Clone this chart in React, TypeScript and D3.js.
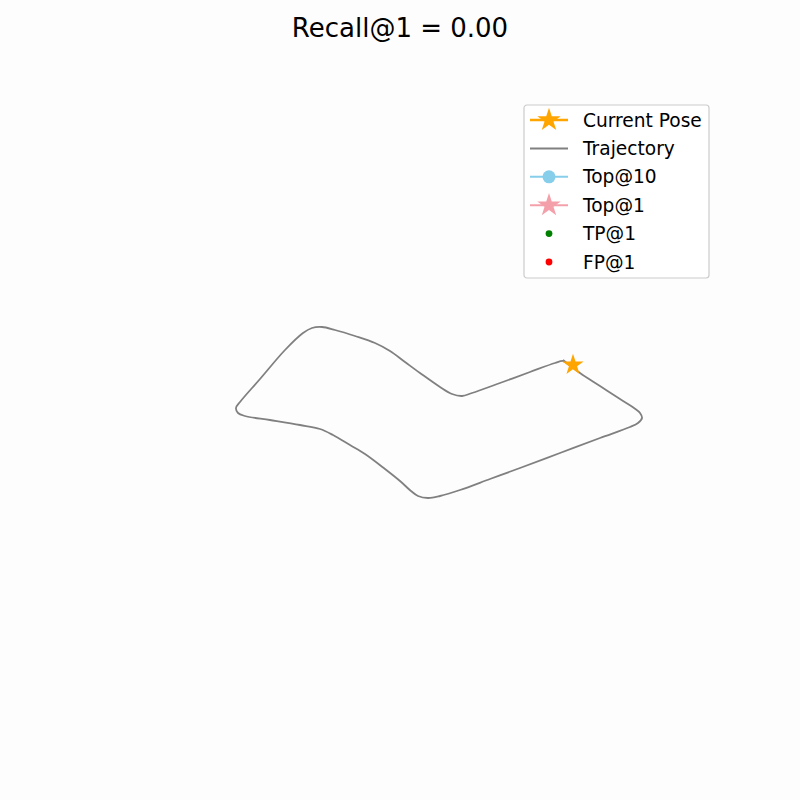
import React, { useEffect, useRef } from 'react';
import * as d3 from 'd3';

// trajectory in map coordinates (metres)
const trajX = [40.75, 45, 50, 55, 58.5, 60, 60.5, 59.5, 57.5, 50, 40, 30, 22.5, 15, 10, 7, 4.5, 2.75, 0, -3.75, -8.75, -12.5, -16.75, -20, -25, -32.5, -38.75, -40.5, -41, -40, -35, -28.75, -24.25, -22, -19.5, -16.25, -11.25, -6.25, -2.5, 1.25, 5, 10, 13, 15.5, 18, 25, 32.5, 38.75, 40.75, 42];
const trajY = [10, 6.75, 3.5, 0.25, -2, -3.25, -4.5, -5.75, -6.75, -9.5, -13.25, -17, -19.75, -22.5, -24, -24.5, -24, -22.75, -20.25, -17.25, -13.5, -11.25, -8.75, -7.25, -6.25, -5, -4, -3.25, -2, -0.5, 5.25, 12.5, 16.75, 18, 18.25, 17.5, 16, 14.25, 12.25, 9.5, 6.75, 3.25, 1.5, 1, 1.75, 4.25, 7, 9.25, 9.75, 9];

const currentPose = { x: 43.25, y: 8.75 };

const recall = 0.0;

const legendLabels = ['Current Pose', 'Trajectory', 'Top@10', 'Top@1', 'TP@1', 'FP@1'];
const legendColors = ['#ffa500', '#808080', '#87ceeb', '#f4a0aa', '#008000', '#ff0000'];
const legendKinds = ['star', 'line', 'circle', 'star', 'dot', 'dot'];

const W = 800;
const H = 800;

const App: React.FC = () => {
  const svgRef = useRef<SVGSVGElement>(null);

  useEffect(() => {
    if (!svgRef.current) return;
    const svg = d3.select(svgRef.current);
    svg.selectAll('*').remove();

    svg.append('rect').attr('width', W).attr('height', H).attr('fill', '#fefdfd');

    const x = d3.scaleLinear().domain([-100, 100]).range([0, W]);
    const y = d3.scaleLinear().domain([-100, 100]).range([H, 0]);

    const font = 'DejaVu Sans, sans-serif';

    // title
    svg.append('text')
      .attr('x', W / 2)
      .attr('y', 37)
      .attr('text-anchor', 'middle')
      .attr('font-family', font)
      .attr('font-size', 26)
      .attr('fill', '#000')
      .text(`Recall@1 = ${recall.toFixed(2)}`);

    const pts = trajX.map((v, i) => [v, trajY[i]] as [number, number]);
    const line = d3.line<[number, number]>()
      .x(d => x(d[0]))
      .y(d => y(d[1]))
      .curve(d3.curveCatmullRom.alpha(0.5));

    svg.append('path')
      .datum(pts)
      .attr('d', line)
      .attr('fill', 'none')
      .attr('stroke', '#808080')
      .attr('stroke-width', 1.8);

    const star = d3.symbol().type(d3.symbolStar);

    svg.append('path')
      .attr('d', star.size(140)())
      .attr('transform', `translate(${x(currentPose.x)},${y(currentPose.y)})`)
      .attr('fill', '#ffa500');

    // legend
    const lg = svg.append('g').attr('transform', 'translate(524,105)');
    lg.append('rect')
      .attr('width', 185)
      .attr('height', 173)
      .attr('rx', 3)
      .attr('fill', '#fff')
      .attr('fill-opacity', 0.8)
      .attr('stroke', '#cccccc')
      .attr('stroke-width', 1.2);

    legendLabels.forEach((label, i) => {
      const cy = 15 + i * 28.4;
      const row = lg.append('g').attr('transform', `translate(0,${cy})`);
      const kind = legendKinds[i];
      const c = legendColors[i];
      if (kind !== 'dot') {
        row.append('line')
          .attr('x1', 6).attr('x2', 44)
          .attr('stroke', c)
          .attr('stroke-width', i === 0 ? 2.6 : 2);
      }
      if (kind === 'star') {
        row.append('path')
          .attr('d', star.size(170)())
          .attr('transform', 'translate(25,0)')
          .attr('fill', c);
      } else if (kind === 'circle') {
        row.append('circle').attr('cx', 25).attr('r', 6.5).attr('fill', c);
      } else if (kind === 'dot') {
        row.append('circle').attr('cx', 25).attr('r', 3.4).attr('fill', c);
      }
      row.append('text')
        .attr('x', 59)
        .attr('dy', '0.35em')
        .attr('font-family', font)
        .attr('font-size', 18.6)
        .attr('fill', '#000')
        .text(label);
    });
  }, []);

  return (
    <div style={{ position: 'absolute', left: 0, top: 0 }}>
      <svg ref={svgRef} width={W} height={H} style={{ display: 'block' }} />
    </div>
  );
};

export default App;
